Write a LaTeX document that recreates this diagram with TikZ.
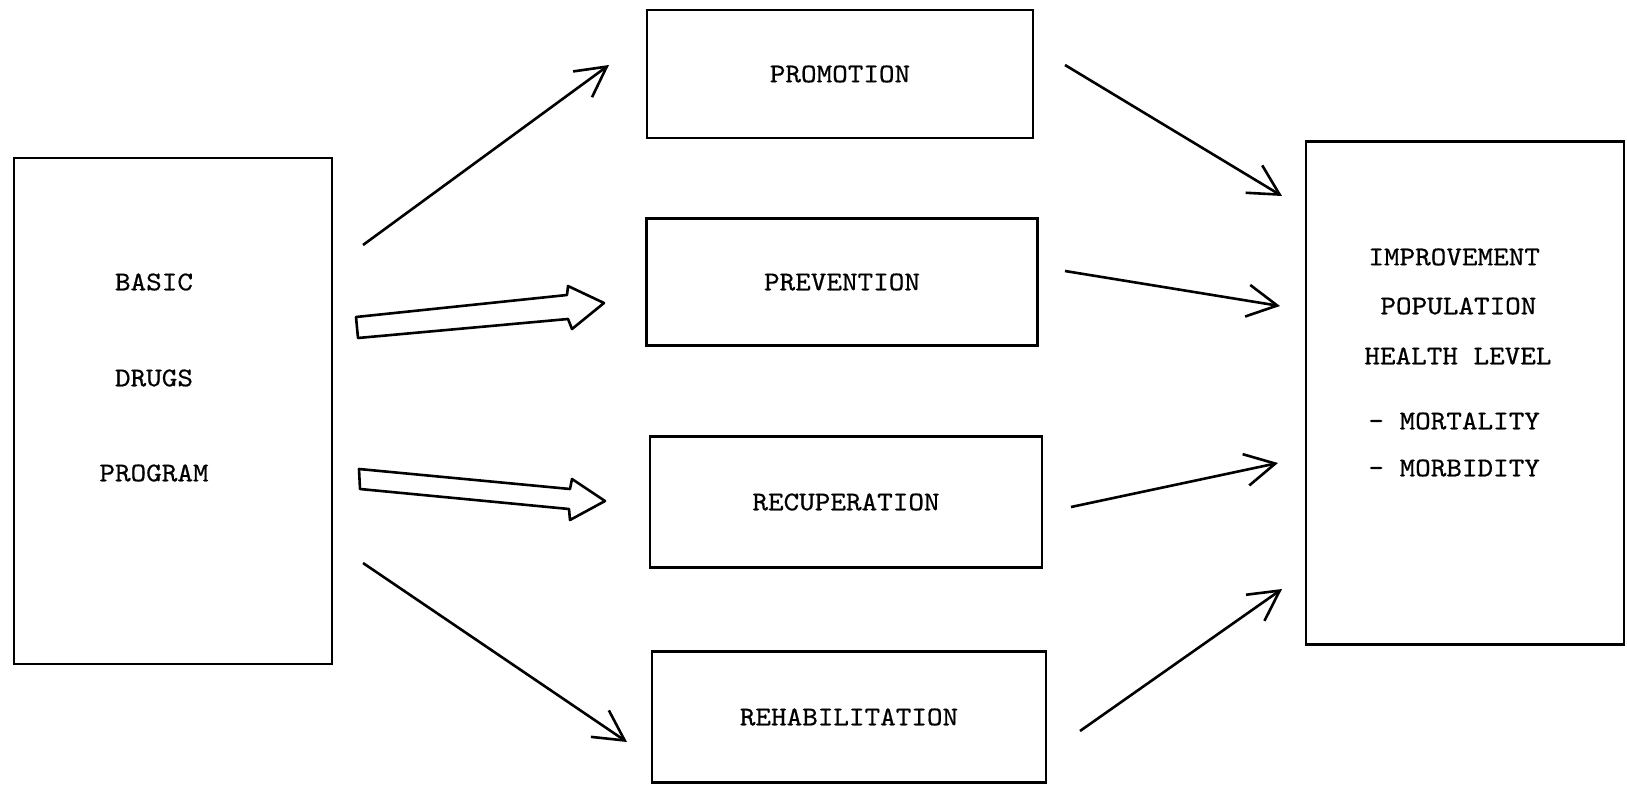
\documentclass[tikz,border=0pt]{standalone}
\usepackage{fontspec}
\setmonofont{lmmono10-regular.otf}[FakeStretch=1.1,FakeBold=0.6]
\usetikzlibrary{arrows.meta}

\begin{document}
\begin{tikzpicture}[
    x=0.5pt, y=-0.5pt,
    every node/.style = {
      font=\ttfamily\fontsize{13.5}{15}\selectfont
    },
    box/.style = {draw, line width=1.3pt, inner sep=0pt},
    lbl/.style = {inner sep=0pt},
    arr/.style = {line width=1.3pt,
      -{Straight Barb[length=15pt,width=16pt,line width=1.3pt]}},
    fat/.style = {draw, line width=1.3pt, line join=round}
  ]

  \useasboundingbox (0,0) rectangle (1627,792);

  % boxes
  \node[box, minimum width=159pt, minimum height=253pt] (basic) at (173,411) {};
  \node[box, minimum width=193pt, minimum height=64pt] (promo) at (840,74) {PROMOTION};
  \node[box, minimum width=195.5pt, minimum height=63.5pt] (prev) at (842,282) {PREVENTION};
  \node[box, minimum width=196pt, minimum height=65.5pt] (recup) at (846,502) {RECUPERATION};
  \node[box, minimum width=197pt, minimum height=65.5pt] (rehab) at (849,717) {REHABILITATION};
  \node[box, minimum width=159pt, minimum height=251.5pt] (health) at (1465,393) {};

  % texts in the side boxes
  \node[lbl] (basic1) at (154,282) {BASIC};
  \node[lbl] (basic2) at (154,378) {DRUGS};
  \node[lbl] (basic3) at (154,473) {PROGRAM};
  \node[lbl, anchor=west] (health1) at (1368,257) {IMPROVEMENT};
  \node[lbl, anchor=west] (health2) at (1380,306) {POPULATION};
  \node[lbl, anchor=west] (health3) at (1364,356) {HEALTH LEVEL};
  \node[lbl, anchor=west] (health4) at (1368,421) {- MORTALITY};
  \node[lbl, anchor=west] (health5) at (1368,468) {- MORBIDITY};

  % arrow ends
  \coordinate (promo-out) at (363,245);
  \coordinate (promo-in) at (609,65);
  \coordinate (rehab-out) at (363,563);
  \coordinate (rehab-in) at (627,742);
  \coordinate (health-in1) at (1282,196);
  \coordinate (health-in2) at (1280,306);
  \coordinate (health-in3) at (1278,463);
  \coordinate (health-in4) at (1282,589);
  \coordinate (promo-end) at (1065,65);
  \coordinate (prev-end) at (1065,271);
  \coordinate (recup-end) at (1071,507);
  \coordinate (rehab-end) at (1080,731);

  \draw[arr] (promo-out) -- (promo-in);
  \draw[arr] (rehab-out) -- (rehab-in);
  \draw[arr] (promo-end) -- (health-in1);
  \draw[arr] (prev-end) -- (health-in2);
  \draw[arr] (recup-end) -- (health-in3);
  \draw[arr] (rehab-end) -- (health-in4);

  % hollow arrows
  \draw[fat] (356,317) -- (567,295) -- (568,286) -- (604,303)
    -- (572,329) -- (568,319) -- (358,338) -- cycle;
  \draw[fat] (359,469) -- (570,489) -- (572,479) -- (605,501)
    -- (570,520) -- (569,509) -- (360,489) -- cycle;

\end{tikzpicture}
\end{document}
